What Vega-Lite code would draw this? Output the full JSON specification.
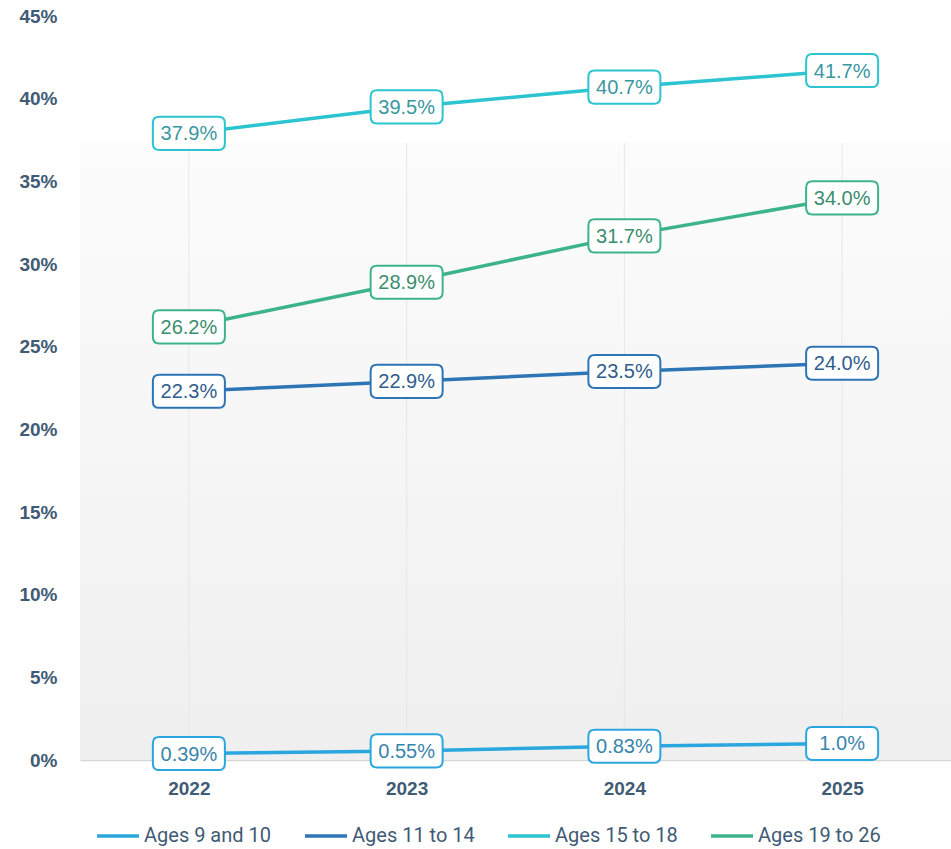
{
  "$schema": "https://vega.github.io/schema/vega-lite/v6.json",
  "width": 871,
  "height": 744,
  "autosize": {"type": "none"},
  "padding": {"left": 80, "top": 16, "right": 0, "bottom": 89},
  "background": "#ffffff",
  "config": {
    "view": {"stroke": null},
    "font": "Liberation Sans"
  },
  "data": {
    "values": [
      {"year": "2022", "group": "Ages 9 and 10", "value": 0.39, "label": "0.39%"},
      {"year": "2023", "group": "Ages 9 and 10", "value": 0.55, "label": "0.55%"},
      {"year": "2024", "group": "Ages 9 and 10", "value": 0.83, "label": "0.83%"},
      {"year": "2025", "group": "Ages 9 and 10", "value": 1.0, "label": "1.0%"},
      {"year": "2022", "group": "Ages 11 to 14", "value": 22.3, "label": "22.3%"},
      {"year": "2023", "group": "Ages 11 to 14", "value": 22.9, "label": "22.9%"},
      {"year": "2024", "group": "Ages 11 to 14", "value": 23.5, "label": "23.5%"},
      {"year": "2025", "group": "Ages 11 to 14", "value": 24.0, "label": "24.0%"},
      {"year": "2022", "group": "Ages 15 to 18", "value": 37.9, "label": "37.9%"},
      {"year": "2023", "group": "Ages 15 to 18", "value": 39.5, "label": "39.5%"},
      {"year": "2024", "group": "Ages 15 to 18", "value": 40.7, "label": "40.7%"},
      {"year": "2025", "group": "Ages 15 to 18", "value": 41.7, "label": "41.7%"},
      {"year": "2022", "group": "Ages 19 to 26", "value": 26.2, "label": "26.2%"},
      {"year": "2023", "group": "Ages 19 to 26", "value": 28.9, "label": "28.9%"},
      {"year": "2024", "group": "Ages 19 to 26", "value": 31.7, "label": "31.7%"},
      {"year": "2025", "group": "Ages 19 to 26", "value": 34.0, "label": "34.0%"}
    ]
  },
  "encoding": {
    "x": {
      "field": "year",
      "type": "ordinal",
      "scale": {"type": "point", "padding": 0.5},
      "axis": {
        "title": null,
        "grid": false,
        "domain": true,
        "domainColor": "#d6d6d6",
        "domainWidth": 1.5,
        "ticks": false,
        "labelAngle": 0,
        "labelFont": "Liberation Sans",
        "labelFontWeight": "bold",
        "labelFontSize": 19,
        "labelColor": "#3f5b75",
        "labelPadding": 19
      }
    },
    "y": {
      "field": "value",
      "type": "quantitative",
      "scale": {"domain": [0, 45], "nice": false, "zero": true},
      "axis": {
        "title": null,
        "grid": false,
        "domain": false,
        "ticks": false,
        "values": [0, 5, 10, 15, 20, 25, 30, 35, 40, 45],
        "labelExpr": "datum.value + '%'",
        "labelFont": "Liberation Sans",
        "labelFontWeight": "bold",
        "labelFontSize": 19,
        "labelColor": "#3f5b75",
        "labelPadding": 23
      }
    }
  },
  "layer": [
    {
      "mark": {
        "type": "rect",
        "fill": {
          "gradient": "linear",
          "x1": 0, "y1": 0, "x2": 0, "y2": 1,
          "stops": [
            {"offset": 0, "color": "#fcfcfc"},
            {"offset": 1, "color": "#efefef"}
          ]
        }
      },
      "encoding": {
        "x": null,
        "y": {"datum": 37.3, "type": "quantitative"},
        "y2": {"datum": 0}
      }
    },
    {
      "transform": [{"filter": "datum.group === 'Ages 9 and 10'"}],
      "mark": {"type": "rule", "color": "#e4e7eb", "strokeWidth": 1},
      "encoding": {
        "y": {"datum": 37.3, "type": "quantitative"},
        "y2": {"datum": 0}
      }
    },
    {
      "mark": {"type": "line", "strokeWidth": 3.5},
      "encoding": {
        "color": {
          "field": "group",
          "type": "nominal",
          "scale": {
            "domain": ["Ages 9 and 10", "Ages 11 to 14", "Ages 15 to 18", "Ages 19 to 26"],
            "range": ["#2aa7df", "#2e75b6", "#2bc4d0", "#3cb38b"]
          },
          "legend": {
            "title": null,
            "orient": "none",
            "direction": "horizontal",
            "legendX": 15,
            "legendY": 797,
            "symbolType": "stroke",
            "symbolSize": 1764,
            "symbolStrokeWidth": 3.5,
            "labelFont": "Roboto",
            "labelFontSize": 20,
            "labelColor": "#3f5b75",
            "labelOffset": 3,
            "columnPadding": 26,
            "symbolOffset": 0
          }
        }
      }
    },
    {
      "mark": {
        "type": "point",
        "shape": "M-0.82,-0.46 L0.82,-0.46 Q1,-0.46 1,-0.28 L1,0.28 Q1,0.46 0.82,0.46 L-0.82,0.46 Q-1,0.46 -1,0.28 L-1,-0.28 Q-1,-0.46 -0.82,-0.46 Z",
        "size": 5184,
        "filled": true,
        "fill": "#ffffff",
        "fillOpacity": 1,
        "strokeWidth": 2,
        "opacity": 1
      },
      "encoding": {
        "stroke": {
          "field": "group",
          "type": "nominal",
          "scale": {
            "domain": ["Ages 9 and 10", "Ages 11 to 14", "Ages 15 to 18", "Ages 19 to 26"],
            "range": ["#2aa7df", "#2e75b6", "#2bc4d0", "#3cb38b"]
          },
          "legend": null
        }
      }
    },
    {
      "mark": {"type": "text", "font": "Liberation Sans", "fontSize": 20, "baseline": "middle", "align": "center", "dy": 1},
      "encoding": {
        "text": {"field": "label"},
        "fill": {
          "field": "group",
          "type": "nominal",
          "scale": {
            "domain": ["Ages 9 and 10", "Ages 11 to 14", "Ages 15 to 18", "Ages 19 to 26"],
            "range": ["#3785ab", "#2f5d8c", "#3a979f", "#3a8d6d"]
          },
          "legend": null
        }
      }
    }
  ]
}
